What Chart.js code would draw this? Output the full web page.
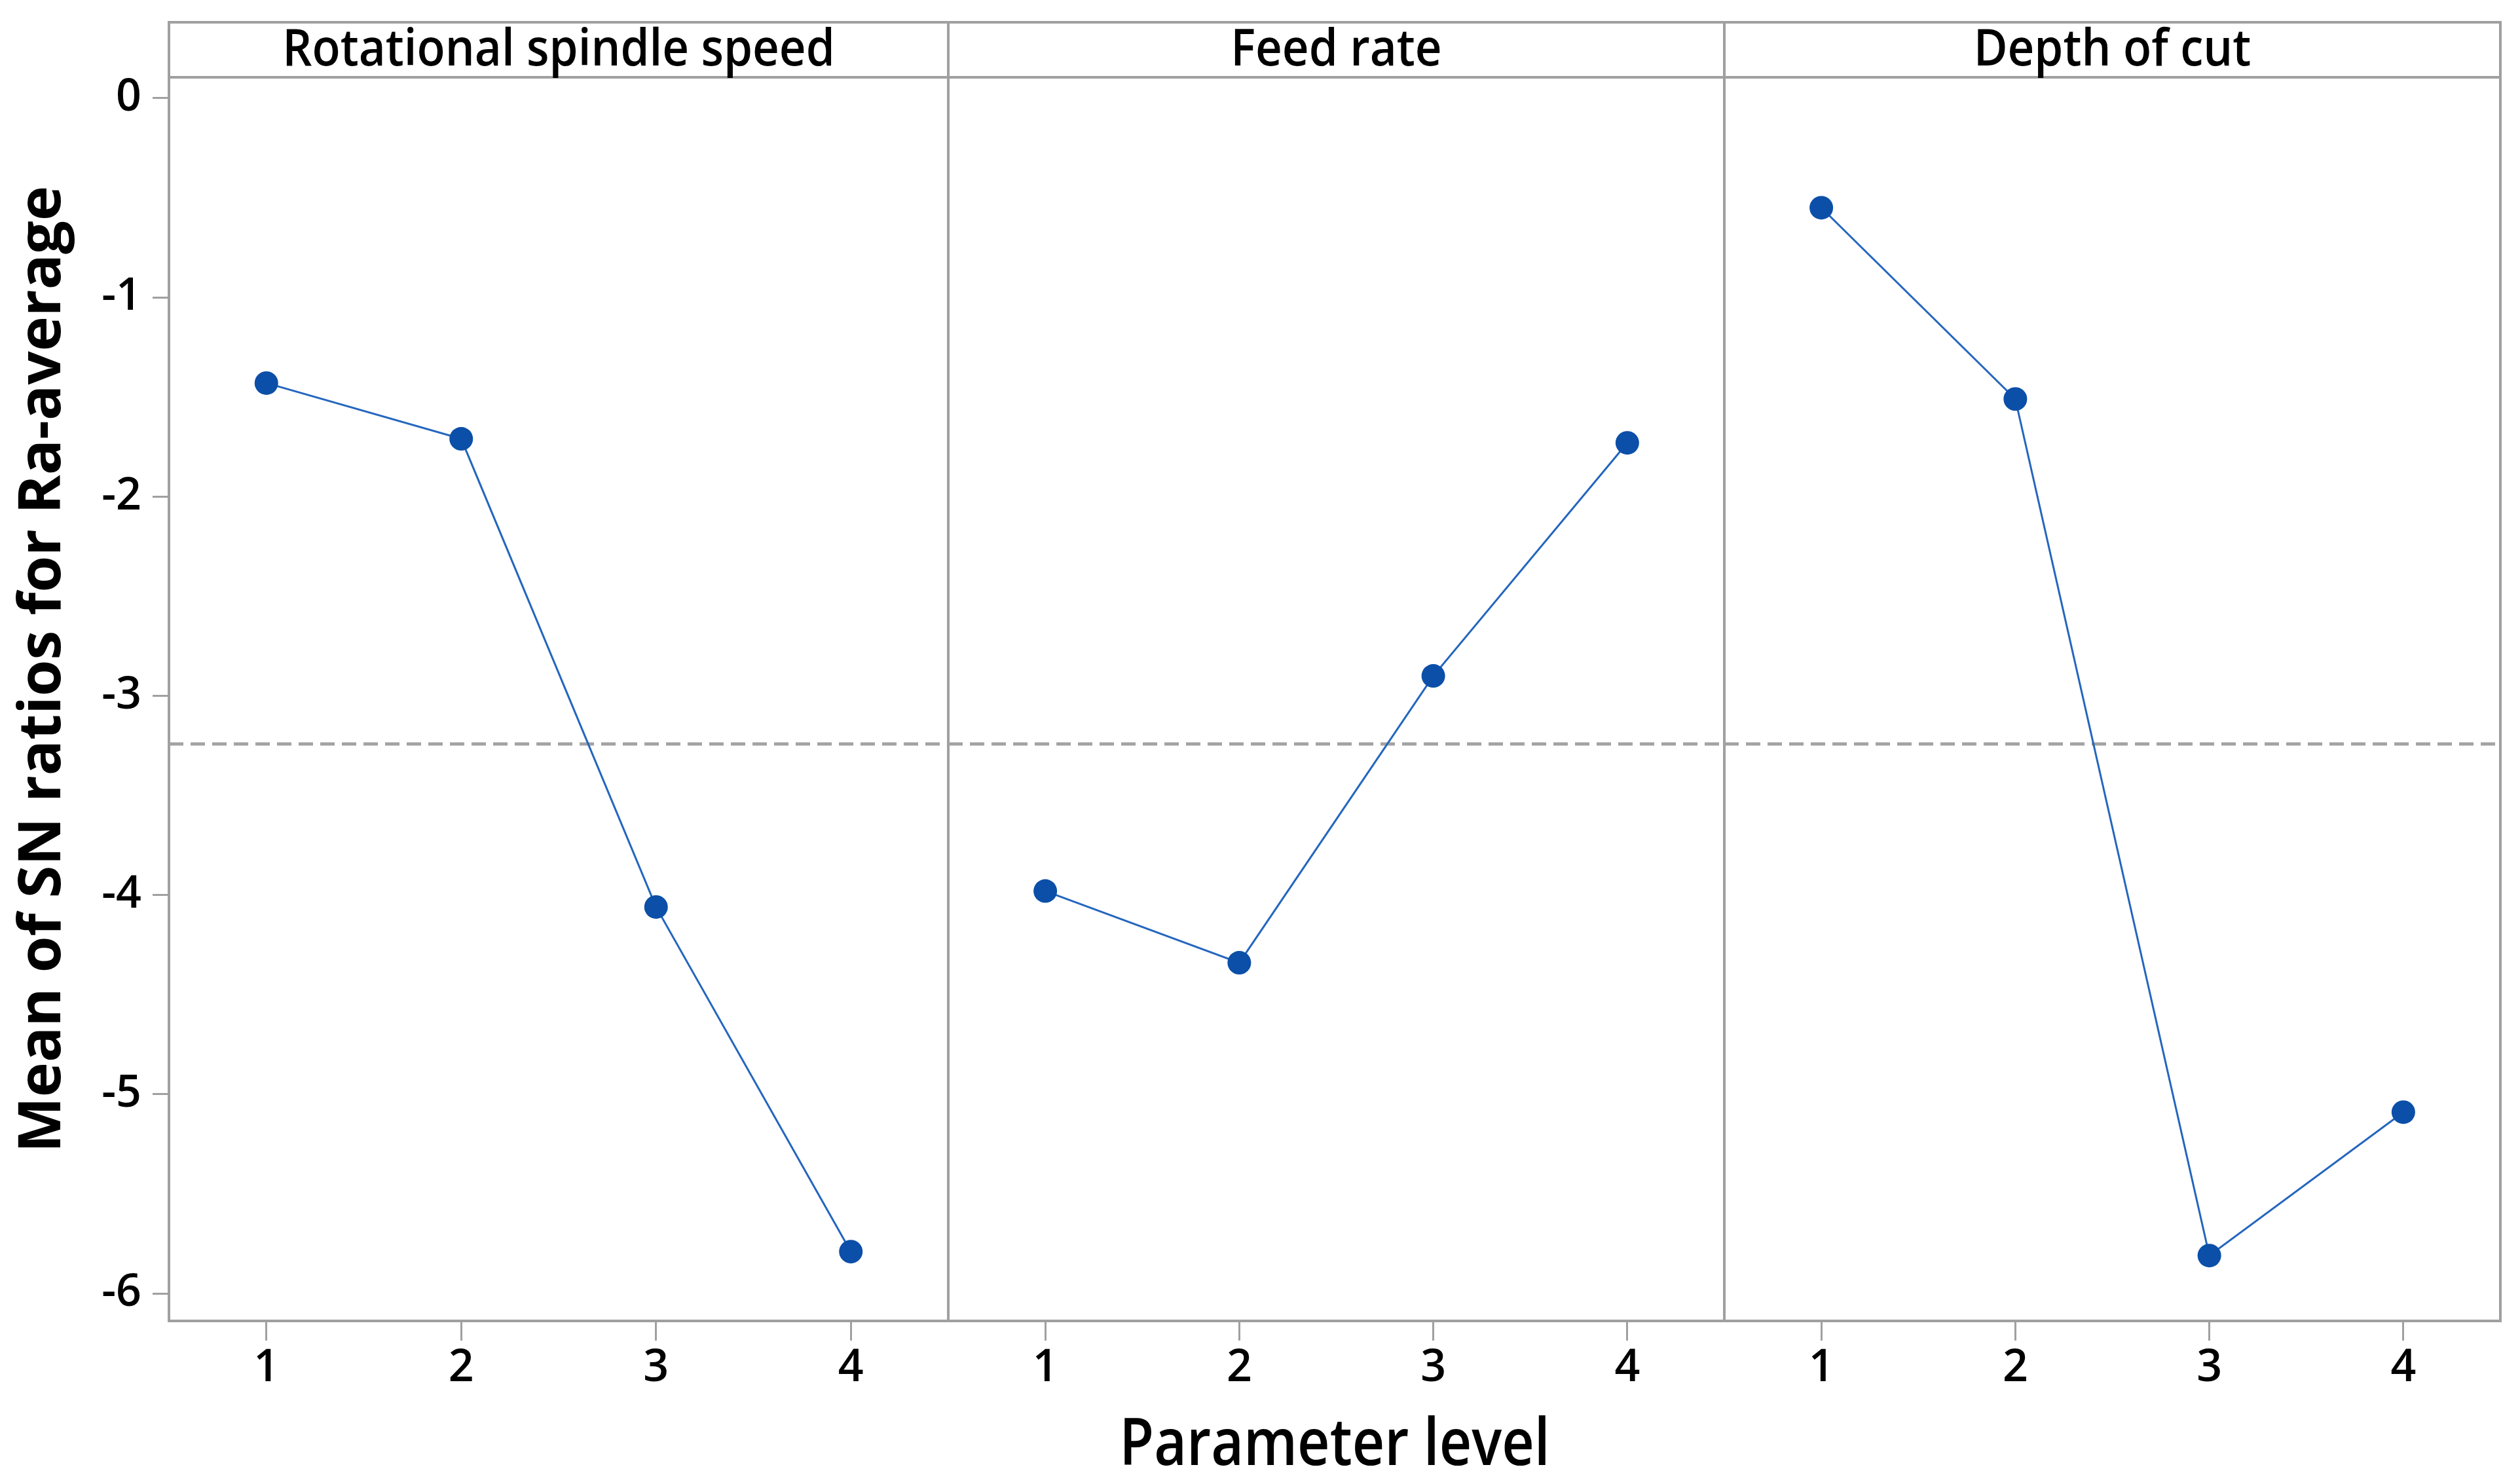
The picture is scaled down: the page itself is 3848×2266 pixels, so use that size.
<!DOCTYPE html>
<html>
<head>
<meta charset="utf-8">
<script src="https://cdn.jsdelivr.net/npm/chart.js@4.4.1/dist/chart.umd.min.js"></script>
<style>
  html, body { margin: 0; padding: 0; background: #fff; }
  #wrap { position: relative; width: 3848px; height: 2266px; }
  #wrap canvas { position: absolute; left: 0; top: 0; }
</style>
</head>
<body>
<div id="wrap">
  <canvas id="c0" width="3848" height="2266"></canvas>
  <canvas id="c1" width="3848" height="2266"></canvas>
  <canvas id="c2" width="3848" height="2266"></canvas>
</div>
<script>
// main effects plot for SN ratios
const levels = ['1', '2', '3', '4'];
const factors = ['Rotational spindle speed', 'Feed rate', 'Depth of cut'];
const spindleSN = [-1.43, -1.71, -4.06, -5.79];
const feedSN = [-3.98, -4.34, -2.90, -1.73];
const depthSN = [-0.55, -1.51, -5.81, -5.09];
const yTicks = [0, -1, -2, -3, -4, -5, -6];
const yTitle = 'Mean of SN ratios for Ra-average';
const xTitle = 'Parameter level';

const allSN = [...spindleSN, ...feedSN, ...depthSN];
const grandMean = allSN.reduce((s, v) => s + v, 0) / allSN.length;

// layout (px)
const W = 3848, H = 2266;
const panelEdges = [258, 1448, 2633, 3818];
const stripTop = 34, plotTop = 118, xAxisH = 249;
const FONT = "'Open Sans', 'Noto Sans', sans-serif";
const frameColor = '#a0a0a0';

const panelFrame = {
  id: 'panelFrame',
  beforeDatasetsDraw(chart) {
    const { ctx, chartArea: a, scales: { y } } = chart;
    const ym = y.getPixelForValue(grandMean);
    ctx.save();
    ctx.strokeStyle = '#a3a3a3';
    ctx.lineWidth = 5;
    ctx.setLineDash([22, 11]);
    ctx.beginPath();
    ctx.moveTo(a.left, ym);
    ctx.lineTo(a.right, ym);
    ctx.stroke();
    ctx.restore();
  },
  afterDraw(chart, args, opts) {
    const { ctx, chartArea: a } = chart;
    ctx.save();
    ctx.strokeStyle = frameColor;
    ctx.lineWidth = 4;
    ctx.strokeRect(a.left, stripTop, a.width, a.bottom - stripTop);
    ctx.beginPath();
    ctx.moveTo(a.left, a.top);
    ctx.lineTo(a.right, a.top);
    ctx.stroke();

    // strip title
    ctx.fillStyle = '#000';
    ctx.textAlign = 'center';
    ctx.textBaseline = 'alphabetic';
    ctx.font = '600 77px ' + FONT;
    ctx.save();
    ctx.translate((a.left + a.right) / 2, 100);
    ctx.scale(0.92, 1);
    ctx.fillText(opts.title, 0, 0);
    ctx.restore();

    if (opts.yTitle) {
      ctx.save();
      ctx.font = 'bold 90px ' + FONT;
      ctx.translate(92, 1022);
      ctx.rotate(-Math.PI / 2);
      ctx.fillText(opts.yTitle, 0, 0);
      ctx.restore();
    }
    if (opts.xTitle) {
      ctx.save();
      ctx.font = '600 100px ' + FONT;
      ctx.translate((panelEdges[0] + panelEdges[3]) / 2, 2237);
      ctx.scale(0.86, 1);
      ctx.fillText(opts.xTitle, 0, 0);
      ctx.restore();
    }
    ctx.restore();
  }
};

function makePanel(i, values) {
  const showY = i === 0;
  return new Chart(document.getElementById('c' + i), {
    type: 'line',
    data: {
      labels: levels,
      datasets: [{
        data: values,
        borderColor: '#2466be',
        borderWidth: 3,
        pointRadius: 18,
        pointHoverRadius: 18,
        pointBackgroundColor: '#0b4fa8',
        pointBorderWidth: 0,
        tension: 0,
        fill: false
      }]
    },
    options: {
      responsive: false,
      animation: false,
      devicePixelRatio: 1,
      layout: {
        padding: {
          left: showY ? 0 : panelEdges[i],
          right: W - panelEdges[i + 1],
          top: plotTop,
          bottom: 0
        }
      },
      scales: {
        x: {
          type: 'category',
          offset: true,
          grid: { display: true, drawOnChartArea: false, drawTicks: true, tickLength: 30, tickWidth: 3, tickColor: frameColor },
          border: { display: false },
          ticks: { color: '#000', padding: 2, font: { family: FONT, size: 68, weight: '600' } },
          afterFit: s => { s.height = xAxisH; }
        },
        y: {
          display: showY,
          min: -6.138,
          max: 0.105,
          grid: { display: true, drawOnChartArea: false, drawTicks: true, tickLength: 25, tickWidth: 3, tickColor: frameColor },
          border: { display: false },
          ticks: { color: '#000', padding: 17, font: { family: FONT, size: 68, weight: '600' } },
          afterBuildTicks: s => { s.ticks = yTicks.map(v => ({ value: v })); },
          afterFit: s => { if (showY) s.width = panelEdges[0]; }
        }
      },
      plugins: {
        legend: { display: false },
        title: { display: false },
        tooltip: { enabled: false },
        panelFrame: {
          title: factors[i],
          yTitle: showY ? yTitle : null,
          xTitle: i === 1 ? xTitle : null
        }
      }
    },
    plugins: [panelFrame]
  });
}

makePanel(0, spindleSN);
makePanel(1, feedSN);
makePanel(2, depthSN);
</script>
</body>
</html>
